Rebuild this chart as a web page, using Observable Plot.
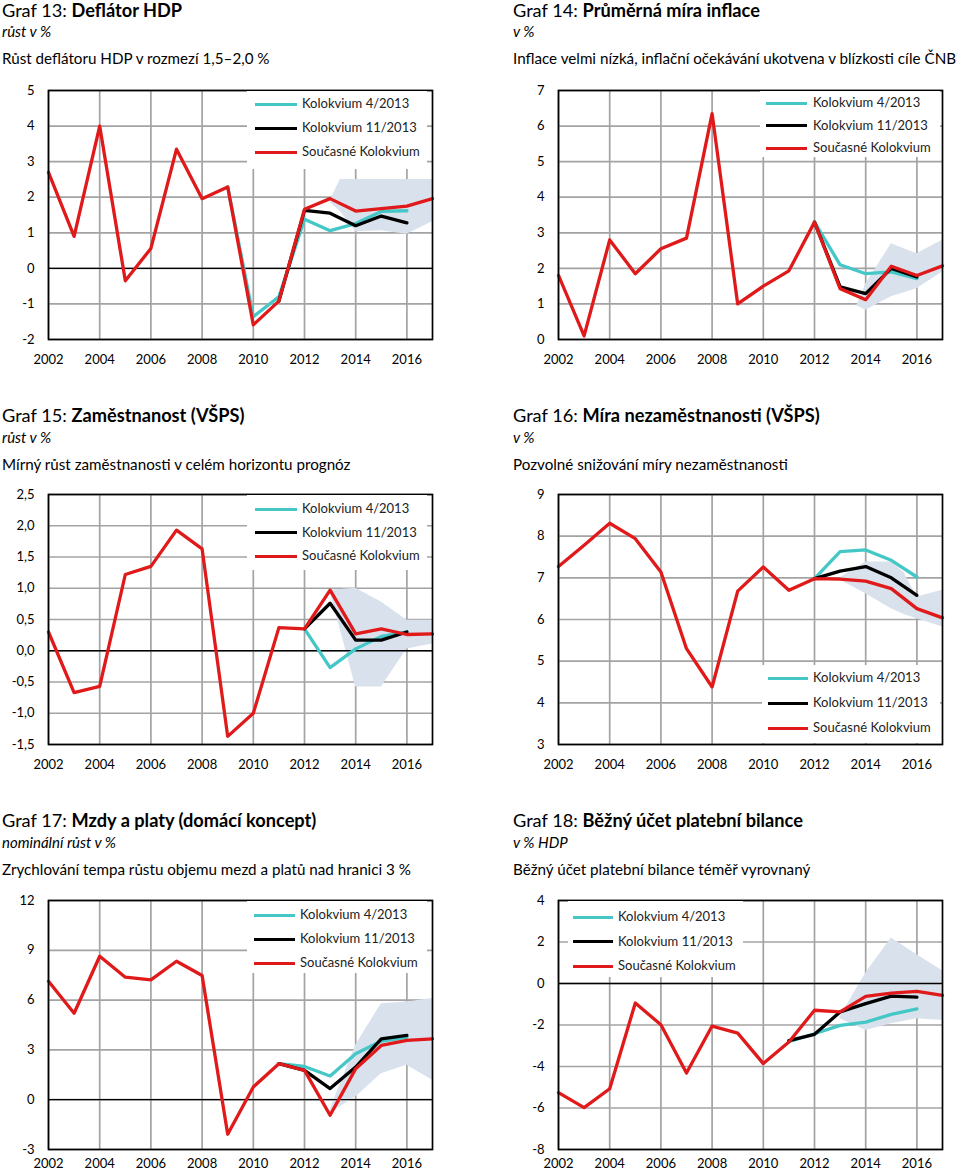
<!DOCTYPE html>
<html><head><meta charset="utf-8">
<script src="https://cdn.jsdelivr.net/npm/d3@7"></script>
<script src="https://cdn.jsdelivr.net/npm/@observablehq/plot@0.6"></script>
<style>
body{margin:0;background:#fff;font-family:Lato,"Open Sans",sans-serif;}
#root{position:relative;width:960px;height:1175px;overflow:hidden;background:#fff;}
.abs{position:absolute;white-space:nowrap;color:#000;line-height:1;}
.title{font-size:18.2px;}
.title b{font-weight:700;}
.sub{font-size:15px;font-style:italic;}
.desc{font-size:15.2px;}
.leg{position:absolute;background:#fff;}
.leg .ln{position:absolute;height:3px;}
.leg .lt{position:absolute;font-size:13px;color:#222;white-space:nowrap;line-height:1;}
</style></head><body><div id="root"></div>
<script>
// ---------- DATA ----------
const years = [2002,2003,2004,2005,2006,2007,2008,2009,2010,2011,2012,2013,2014,2015,2016,2017];
const xTicks = [2002,2004,2006,2008,2010,2012,2014,2016];
const seriesNames = ["Kolokvium 4/2013","Kolokvium 11/2013","Současné Kolokvium"];

// Graf 13
const deflCurrent = [2.7,0.9,4.0,-0.35,0.56,3.35,1.96,2.29,-1.59,-0.92,1.66,1.96,1.61,1.68,1.75,1.96];
const deflAprYears = [2009,2010,2011,2012,2013,2014,2015,2016];
const deflApr = [2.29,-1.36,-0.8,1.38,1.06,1.26,1.6,1.62];
const deflNovYears = [2011,2012,2013,2014,2015,2016];
const deflNov = [-0.92,1.63,1.55,1.2,1.47,1.28];
const deflBandYears = [2013,2013.4,2014,2015,2016,2017];
const deflBandLow = [1.85,1.6,1.03,1.06,0.96,1.31];
const deflBandHigh = [1.9,2.5,2.5,2.5,2.5,2.5];
const deflTicks = [-2,-1,0,1,2,3,4,5];

// Graf 14
const inflCurrent = [1.8,0.1,2.8,1.85,2.55,2.85,6.35,1.0,1.5,1.93,3.3,1.43,1.12,2.06,1.8,2.07];
const inflAprYears = [2012,2013,2014,2015,2016];
const inflApr = [3.3,2.1,1.85,1.9,1.71];
const inflNovYears = [2012,2013,2014,2015,2016];
const inflNov = [3.3,1.48,1.29,2.0,1.76];
const inflBandYears = [2013.65,2014,2015,2016,2017];
const inflBandLow = [0.95,0.82,1.2,1.43,1.9];
const inflBandHigh = [0.95,1.55,2.69,2.41,2.79];
const inflTicks = [0,1,2,3,4,5,6,7];

// Graf 15
const emplCurrent = [0.3,-0.67,-0.57,1.22,1.35,1.93,1.63,-1.37,-1.0,0.37,0.35,0.97,0.27,0.35,0.26,0.27];
const emplAprYears = [2012,2013,2014,2015,2016];
const emplApr = [0.35,-0.27,0.03,0.23,0.3];
const emplNovYears = [2012,2013,2014,2015,2016];
const emplNov = [0.35,0.76,0.17,0.17,0.3];
const emplBandYears = [2013,2014,2015,2016,2017];
const emplBandLow = [0.95,-0.58,-0.58,0.03,0.11];
const emplBandHigh = [0.97,1.0,0.78,0.49,0.49];
const emplTicks = [-1.5,-1,-0.5,0,0.5,1,1.5,2,2.5];

// Graf 16
const unempCurrent = [7.27,7.78,8.31,7.94,7.14,5.3,4.38,6.68,7.26,6.7,6.98,6.97,6.92,6.74,6.26,6.04];
const unempAprYears = [2012,2013,2014,2015,2016];
const unempApr = [6.98,7.63,7.67,7.42,7.02];
const unempNovYears = [2012,2013,2014,2015,2016];
const unempNov = [6.98,7.16,7.27,7.0,6.58];
const unempBandYears = [2013,2014,2015,2015.5,2016,2017];
const unempBandLow = [6.95,6.62,6.26,6.12,6.02,5.82];
const unempBandHigh = [7.0,7.38,7.38,7.12,6.54,6.7];
const unempTicks = [3,4,5,6,7,8,9];

// Graf 17
const wageCurrent = [7.14,5.21,8.64,7.38,7.22,8.34,7.48,-2.08,0.77,2.17,1.77,-0.94,1.87,3.27,3.57,3.67];
const wageAprYears = [2011,2012,2013,2014,2015,2016];
const wageApr = [2.17,2.0,1.43,2.77,3.53,3.75];
const wageNovYears = [2011,2012,2013,2014,2015,2016];
const wageNov = [2.17,1.77,0.67,1.97,3.67,3.87];
const wageBandYears = [2013,2014,2015,2016,2017];
const wageBandLow = [-0.8,0.17,1.57,2.07,1.17];
const wageBandHigh = [-0.6,3.28,5.78,5.88,6.09];
const wageTicks = [-3,0,3,6,9,12];

// Graf 18
const caCurrent = [-5.26,-5.98,-5.07,-0.94,-1.99,-4.31,-2.05,-2.39,-3.86,-2.82,-1.29,-1.37,-0.62,-0.46,-0.38,-0.57];
const caAprYears = [2011,2012,2013,2014,2015,2016];
const caApr = [-2.8,-2.42,-2.02,-1.86,-1.49,-1.22];
const caNovYears = [2011,2012,2013,2014,2015,2016];
const caNov = [-2.75,-2.45,-1.37,-0.97,-0.61,-0.66];
const caBandYears = [2013,2014,2015,2016,2017];
const caBandLow = [-1.7,-2.26,-1.94,-1.7,-1.78];
const caBandHigh = [-1.6,0.5,2.19,1.38,0.62];
const caTicks = [-8,-6,-4,-2,0,2,4];

// ---------- STYLE ----------
const COL_APR = "#45c7c7", COL_NOV = "#000000", COL_CUR = "#e01a1a", COL_BAND = "#d9e2ec", COL_GRID = "#a3a3a3";
const LW = 3.3;
const root = document.getElementById("root");

function addText(cls, x, baseline, html, size){
  const d = document.createElement("div");
  d.className = "abs " + cls;
  d.style.left = x + "px";
  d.style.top = Math.max(0, baseline - size*0.82) + "px";
  d.innerHTML = html;
  root.appendChild(d);
}

function zip(xs, ys){ return xs.map((x,i)=>({year:x, value:ys[i]})); }

function panel(o){
  const cur = zip(years, o.current);
  const apr = zip(o.aprYears, o.apr);
  const nov = zip(o.novYears, o.nov);
  const band = o.bandYears.map((x,i)=>({year:x, lo:o.bandLow[i], hi:o.bandHigh[i]}));
  const marks = [
    Plot.ruleX(xTicks, {stroke: COL_GRID, strokeWidth: 1.7}),
    Plot.ruleY(o.ticks, {stroke: COL_GRID, strokeWidth: 1.7}),
    Plot.areaY(band, {x:"year", y1:"lo", y2:"hi", fill: COL_BAND, curve:"linear"}),
  ];
  if (o.ticks[0] < 0) marks.push(Plot.ruleY([0], {stroke:"#000", strokeWidth:1.3}));
  marks.push(
    Plot.line(apr, {x:"year", y:"value", stroke: COL_APR, strokeWidth: LW}),
    Plot.line(nov, {x:"year", y:"value", stroke: COL_NOV, strokeWidth: LW}),
    Plot.line(cur, {x:"year", y:"value", stroke: COL_CUR, strokeWidth: LW}),
    Plot.frame({stroke:"#000", strokeWidth: 1.7}),
    Plot.axisX({ticks: xTicks, tickSize: 0, tickPadding: o.xPad || 15, label: null, tickFormat: d => String(d)}),
    Plot.axisY({ticks: o.ticks, tickSize: 0, tickPadding: 14, label: null, tickFormat: o.fmt || (d => String(d))})
  );
  const chart = Plot.plot({
    width: 442, height: o.height,
    marginLeft: 48, marginRight: 10, marginTop: 10, marginBottom: o.height - 10 - o.plotH,
    x: {domain: [2002, 2017], label: null},
    y: {domain: [o.ticks[0], o.ticks[o.ticks.length-1]], label: null},
    style: {fontFamily: "Lato, sans-serif", fontSize: "13px", color: "#000", background: "transparent", overflow: "visible"},
    marks
  });
  chart.style.position = "absolute";
  chart.style.left = o.left + "px";
  chart.style.top = o.top + "px";
  root.appendChild(chart);

  // legend
  const L = o.legend;
  const box = document.createElement("div");
  box.className = "leg";
  box.style.left = L.x + "px"; box.style.top = L.y + "px";
  box.style.width = L.w + "px"; box.style.height = L.h + "px";
  [COL_APR, COL_NOV, COL_CUR].forEach((c, i) => {
    const cy = L.first + i * L.step;
    const ln = document.createElement("div");
    ln.className = "ln";
    ln.style.left = L.lx + "px"; ln.style.width = L.lw + "px";
    ln.style.top = (cy - 1.5) + "px"; ln.style.background = c;
    box.appendChild(ln);
    const t = document.createElement("div");
    t.className = "lt";
    t.style.left = L.tx + "px"; t.style.top = (cy - 7) + "px";
    t.textContent = seriesNames[i];
    box.appendChild(t);
  });
  root.appendChild(box);
}

function heading(x, base, num, name, sub, desc){
  addText("title", x, base, "Graf " + num + ": <b>" + name + "</b>", 18.2);
  addText("sub", x, base + 21, sub, 15);
  addText("desc", x, base + 48, desc, 15.2);
}

heading(2, 15.5, 13, "Deflátor HDP", "růst v %", "Růst deflátoru HDP v rozmezí 1,5–2,0 %");
heading(513, 15.5, 14, "Průměrná míra inflace", "v %", "Inflace velmi nízká, inflační očekávání ukotvena v blízkosti cíle ČNB");
heading(2, 421, 15, "Zaměstnanost (VŠPS)", "růst v %", "Mírný růst zaměstnanosti v celém horizontu prognóz");
heading(513, 421, 16, "Míra nezaměstnanosti (VŠPS)", "v %", "Pozvolné snižování míry nezaměstnanosti");
heading(2, 826, 17, "Mzdy a platy (domácí koncept)", "nominální růst v %", "Zrychlování tempa růstu objemu mezd a platů nad hranici 3 %");
heading(513, 826, 18, "Běžný účet platební bilance", "v % HDP", "Běžný účet platební bilance téměř vyrovnaný");

panel({left:0, top:80, height:289, plotH:249, ticks: deflTicks, current: deflCurrent,
  aprYears: deflAprYears, apr: deflApr, novYears: deflNovYears, nov: deflNov,
  bandYears: deflBandYears, bandLow: deflBandLow, bandHigh: deflBandHigh,
  legend:{x:247, y:91, w:180, h:78, first:13, step:24, lx:8, lw:42, tx:55}});
panel({left:510, top:80, height:289, plotH:249, ticks: inflTicks, current: inflCurrent,
  aprYears: inflAprYears, apr: inflApr, novYears: inflNovYears, nov: inflNov,
  bandYears: inflBandYears, bandLow: inflBandLow, bandHigh: inflBandHigh,
  legend:{x:760, y:91, w:180, h:66, first:12, step:22.5, lx:6, lw:41, tx:53}});
panel({left:0, top:484, height:290, plotH:250, ticks: emplTicks, current: emplCurrent,
  fmt: d => d.toFixed(1).replace(".", ","),
  aprYears: emplAprYears, apr: emplApr, novYears: emplNovYears, nov: emplNov,
  bandYears: emplBandYears, bandLow: emplBandLow, bandHigh: emplBandHigh,
  legend:{x:247, y:495, w:180, h:75, first:14, step:23.5, lx:8, lw:42, tx:55}});
panel({left:510, top:484, height:290, plotH:250, ticks: unempTicks, current: unempCurrent,
  aprYears: unempAprYears, apr: unempApr, novYears: unempNovYears, nov: unempNov,
  bandYears: unempBandYears, bandLow: unempBandLow, bandHigh: unempBandHigh,
  legend:{x:762, y:665, w:178, h:78, first:13, step:25, lx:6, lw:40, tx:51}});
panel({left:0, top:890, height:285, plotH:249, xPad:9, ticks: wageTicks, current: wageCurrent,
  aprYears: wageAprYears, apr: wageApr, novYears: wageNovYears, nov: wageNov,
  bandYears: wageBandYears, bandLow: wageBandLow, bandHigh: wageBandHigh,
  legend:{x:247, y:901, w:180, h:72, first:14, step:24, lx:7, lw:41, tx:53}});
panel({left:510, top:890, height:285, plotH:249, xPad:9, ticks: caTicks, current: caCurrent,
  aprYears: caAprYears, apr: caApr, novYears: caNovYears, nov: caNov,
  bandYears: caBandYears, bandLow: caBandLow, bandHigh: caBandHigh,
  legend:{x:568, y:901, w:175, h:76, first:16, step:24.5, lx:5, lw:40, tx:50}});
</script></body></html>
